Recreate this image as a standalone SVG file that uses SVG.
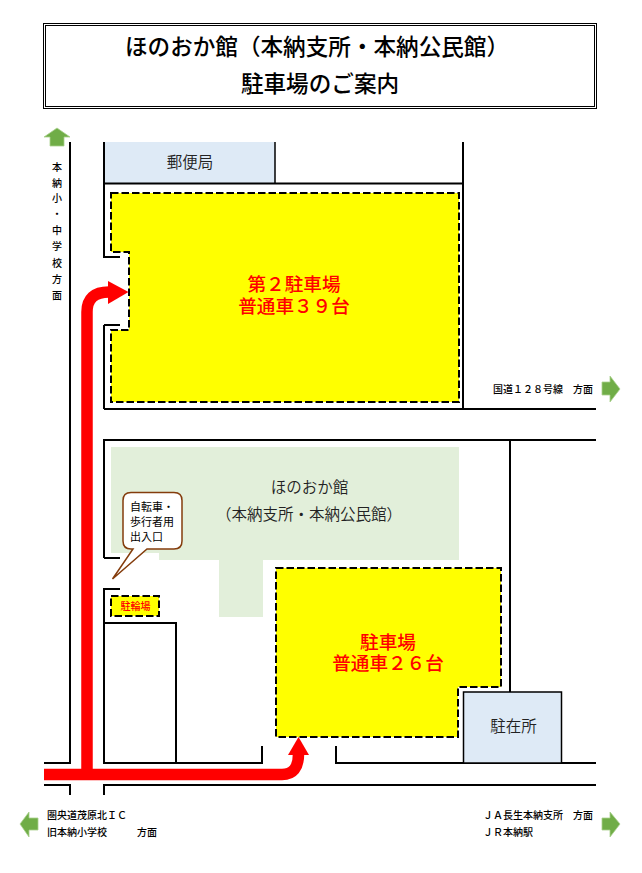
<svg xmlns="http://www.w3.org/2000/svg" width="642" height="873" viewBox="0 0 642 873">
<style>
text{font-family:"Noto Sans CJK JP","Noto Sans",sans-serif;fill:#000}
.road{fill:none;stroke:#000;stroke-width:2}
.lot{fill:#ff0;stroke:#000;stroke-width:2;stroke-dasharray:7.5 3}
.bldg{fill:#deeaf6}
.thin{fill:none;stroke:#000;stroke-width:1.5}
.green{fill:#70ad47;stroke:#a9d18e;stroke-width:.8}
.redline{fill:none;stroke:#f00;stroke-width:11.5}
.red{fill:#f00}
.lotlabel{fill:#f00;font-size:18.6px;font-weight:500;text-anchor:middle}
.lab{font-size:15.5px;font-weight:350;text-anchor:middle;fill:#222}
.dir{font-size:10px;font-weight:500}
.title{font-size:22.6px;font-weight:500;text-anchor:middle}
.note{font-size:11px}
</style>
<rect width="642" height="873" fill="#fff"/>
<g id="title">
<rect x="43.5" y="23.5" width="553" height="85" fill="#fff" stroke="#000" stroke-width="1"/>
<rect x="45.5" y="25.5" width="549" height="81" fill="none" stroke="#000" stroke-width="1"/>
<text class="title" x="317" y="55">ほのおか館（本納支所・本納公民館）</text>
<text class="title" x="320" y="92">駐車場のご案内</text>
</g>
<g id="post-office">
<rect class="bldg" x="104" y="142" width="171" height="41"/>
<text class="lab" x="190" y="168">郵便局</text>
</g>
<g id="building">
<polygon points="111,447 459,447 459,560 263,560 263,617 219,617 219,560 159,560 159,553 111,553" fill="#e2efda"/>
<text class="lab" x="309.500" y="493">ほのおか館</text>
<text class="lab" x="309" y="520">（本納支所・本納公民館）</text>
</g>
<g id="roads">
<path class="road" d="M70 142V763H44M44 785H70V795M104 795V785H596M336 746V763H596M262 746V763H104V589H120M104 558H120M104 558V440H596M510 440V692M104 409H596M463 142V409M104 325H120M104 325V409M104 142V257H120M104 183.5H463"/>
<path class="road" d="M104 623H176V763"/>
<path class="thin" d="M275 142V183"/>
</g>
<g id="lot-2">
<polygon class="lot" points="111,193 459,193 459,402 111,402 111,330 129,330 129,252 111,252"/>
<text class="lotlabel" x="294" y="291">第２駐車場</text>
<text class="lotlabel" x="294" y="313">普通車３９台</text>
</g>
<g id="lot-1">
<polygon class="lot" points="276,568 501,568 501,687 458,687 458,737 276,737"/>
<text class="lotlabel" x="388" y="649">駐車場</text>
<text class="lotlabel" x="388" y="670">普通車２６台</text>
</g>
<g id="bicycle-parking">
<rect class="lot" x="111" y="596" width="48" height="20"/>
<text x="135.500" y="610" style="font-size:10px;font-weight:500;fill:#f00;text-anchor:middle">駐輪場</text>
</g>
<g id="police-box">
<rect class="bldg" x="463.500" y="692" width="98" height="71" stroke="#000" stroke-width="1.5"/>
<text class="lab" x="513.500" y="732">駐在所</text>
</g>
<g id="callout">
<path d="M131 492.500H174Q182 492.500 182 500.500V541Q182 549 174 549H147L112.500 579L133 549H131Q123 549 123 541V500.500Q123 492.500 131 492.500Z" fill="#fff" stroke="#843c0c" stroke-width="1.500"/>
<text class="note" x="130" y="511">自転車・</text>
<text class="note" x="130" y="526">歩行者用</text>
<text class="note" x="130" y="541">出入口</text>
</g>
<g id="connectors">
<path class="redline" d="M87 775V312Q87 292 109 292"/>
<polygon class="red" points="108,281 128.500,292 108,304"/>
<path class="redline" d="M44 774.500H282Q298.500 774.500 298.500 754"/>
<polygon class="red" points="288,755 298.500,737 309,755"/>
</g>
<g id="dir-north">
<polygon class="green" points="57,128 70,137 64,137 64,146 50,146 50,137 44,137"/>
<text class="dir" style="text-anchor:middle"><tspan x="57" y="171">本</tspan><tspan x="57" y="187">納</tspan><tspan x="57" y="202">小</tspan><tspan x="57" y="218">・</tspan><tspan x="57" y="234">中</tspan><tspan x="57" y="250">学</tspan><tspan x="57" y="267">校</tspan><tspan x="57" y="283">方</tspan><tspan x="57" y="299">面</tspan></text>
</g>
<g id="dir-route128">
<polygon class="green" points="620,389 610,376 610,382 602,382 602,395 610,395 610,402"/>
<text class="dir" x="493" y="393">国道１２８号線　方面</text>
</g>
<g id="dir-west">
<polygon class="green" points="20,824 29,812 29,818 38,818 38,830 29,830 29,837"/>
<text class="dir" x="47" y="819">圏央道茂原北ＩＣ</text>
<text class="dir" x="47" y="836">旧本納小学校</text>
<text class="dir" x="137" y="836">方面</text>
</g>
<g id="dir-east">
<polygon class="green" points="620,824 610,812 610,818 602,818 602,830 610,830 610,837"/>
<text class="dir" x="483" y="819">ＪＡ長生本納支所　方面</text>
<text class="dir" x="483" y="836">ＪＲ本納駅</text>
</g>
</svg>
